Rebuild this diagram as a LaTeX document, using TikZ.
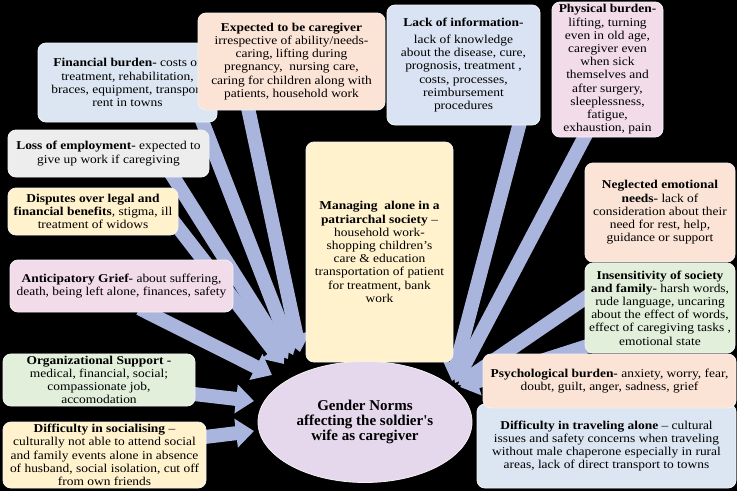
\documentclass[tikz,border=0pt]{standalone}
\usepackage{fontspec}
\setmainfont{Liberation Serif}[FakeStretch=1.12]
\newfontfamily\ellfont{Liberation Serif}
\usetikzlibrary{arrows.meta,shapes.geometric,calc}
\pgfdeclarelayer{back}
\pgfdeclarelayer{arr}
\pgfsetlayers{back,arr,main}
\definecolor{arrc}{HTML}{A9B5DC}
\definecolor{cblue}{HTML}{DCE6F2}
\definecolor{cpeach}{HTML}{FBE3D6}
\definecolor{clav}{HTML}{DAE3F3}
\definecolor{cpink}{HTML}{F2DCEA}
\definecolor{cgray}{HTML}{EDEDED}
\definecolor{cyel}{HTML}{FFF2CC}
\definecolor{cgreen}{HTML}{E2EFDA}
\definecolor{cell}{HTML}{E5D8EC}
\definecolor{cedge}{HTML}{F2F2F2}
\begin{document}
\begin{tikzpicture}[x=1pt,y=-1pt,
  box/.style={rectangle, rounded corners=8pt, draw=cedge, line width=0.8pt, align=center, inner sep=2pt, font=\fontsize{12}{13.2}\selectfont, text=black},
  fat/.style={draw=arrc, line width=14pt, -{Triangle[width=28pt,length=18pt]}}]
\begin{pgfonlayer}{back}
\fill[black] (0,0) rectangle (737,491);
\end{pgfonlayer}
\useasboundingbox (0,0) rectangle (737,491);

% boxes
\node[box, fill=cblue, minimum width=179pt, minimum height=79pt] (fin) at (127.5,82.5)
 {\textbf{Financial burden-} costs of\\treatment, rehabilitation,\\braces, equipment, transport\\rent in towns};
\node[box, fill=cpeach, minimum width=187pt, minimum height=97pt] (exp) at (291.5,61.5)
 {\textbf{Expected to be caregiver}\\irrespective of ability/needs-\\caring, lifting during\\pregnancy,\ \ nursing care,\\caring for children along with\\patients, household work};
\node[box, fill=clav, minimum width=153pt, minimum height=120pt] (lack) at (463.5,65)
 {\textbf{Lack of information-}\\[4pt]lack of knowledge\\about the disease, cure,\\prognosis, treatment ,\\costs, processes,\\reimbursement\\procedures};
\node[box, fill=cpink, minimum width=111pt, minimum height=135pt] (phys) at (607.5,69.5)
 {\textbf{Physical burden-}\\lifting, turning\\even in old age,\\caregiver even\\when sick\\themselves and\\after surgery,\\sleeplessness,\\fatigue,\\exhaustion, pain};
\node[box, fill=cgray, minimum width=201pt, minimum height=47pt] (loss) at (108.5,153.5)
 {\textbf{Loss of employment-} expected to\\give up work if caregiving};
\node[box, fill=cyel, minimum width=170pt, minimum height=47pt] (disp) at (93,211.5)
 {\textbf{Disputes over legal and}\\\textbf{financial benefits}, stigma, ill\\treatment of widows};
\node[box, fill=cpink, minimum width=223pt, minimum height=52pt] (antic) at (121.5,286)
 {\textbf{Anticipatory Grief-} about suffering,\\death, being left alone, finances, safety};
\node[box, fill=cyel, minimum width=147pt, minimum height=220pt] (manag) at (379.5,252)
 {\textbf{Managing\ \ alone in a}\\\textbf{patriarchal society} --\\household work-\\shopping children’s\\care \& education\\transportation of patient\\for treatment, bank\\work};
\node[box, fill=cpeach, minimum width=150pt, minimum height=99pt] (negl) at (660,212.5)
 {\textbf{Neglected emotional}\\\textbf{needs-} lack of\\consideration about their\\need for rest, help,\\guidance or support};
\node[box, fill=cgreen, minimum width=150pt, minimum height=90pt] (insens) at (660,308)
 {\textbf{Insensitivity of society}\\\textbf{and family-} harsh words,\\rude language, uncaring\\about the effect of words,\\effect of caregiving tasks ,\\emotional state};
\node[box, fill=cblue, minimum width=259pt, minimum height=84pt] (trav) at (606.5,446)
 {\textbf{Difficulty in traveling alone} -- cultural\\issues and safety concerns when traveling\\without male chaperone especially in rural\\areas, lack of direct transport to towns};
\node[box, fill=cpeach, minimum width=253pt, minimum height=54pt] (psych) at (609.5,381)
 {\textbf{Psychological burden-} anxiety, worry, fear,\\doubt, guilt, anger, sadness, grief};
\node[box, fill=cgreen, minimum width=192pt, minimum height=50pt] (org) at (99,380)
 {\textbf{Organizational Support -}\\medical, financial, social;\\compassionate job,\\accomodation};
\node[box, fill=cyel, minimum width=203pt, minimum height=66pt] (soc) at (104.5,455)
 {\textbf{Difficulty in socialising} --\\culturally not able to attend social\\and family events alone in absence\\of husband, social isolation, cut off\\from own friends};
\node[ellipse, fill=cell, draw=cedge, line width=0.8pt, minimum width=214pt, minimum height=121pt, inner sep=0pt, align=center, font=\ellfont\fontsize{15}{14.8}\selectfont\bfseries] (ell) at (365,422)
 {Gender Norms\\affecting the soldier's\\wife as caregiver};

% arrow tips
\coordinate (t1) at (300,352);
\coordinate (t2) at (293,355);
\coordinate (t3) at (288,359);
\coordinate (t4) at (284,364);
\coordinate (t5) at (272,375);
\coordinate (t6) at (254,401);
\coordinate (t7) at (254,431);
\coordinate (r1) at (452,381);
\coordinate (r2) at (455,383);
\coordinate (r3) at (458,385);
\coordinate (r4) at (460,387);

\begin{pgfonlayer}{arr}
\draw[fat] ($(exp.south)+(-44,-5)$) -- (t1);
\draw[fat] ($(fin.south east)+(-17,-6)$) -- (t2);
\draw[fat] ($(loss.south east)+(-39,-5)$) -- (t3);
\draw[fat] ($(disp.east)+(-8,6)$) -- (t4);
\draw[fat] ($(antic.south)+(18,-4)$) -- (t5);
\draw[fat] ($(org.east)+(-10,13)$) -- (t6);
\draw[fat] ($(soc.east)+(-10,-17)$) -- (t7);
\draw[fat] ($(lack.south)+(57,-5)$) -- (r1);
\draw[fat] ($(phys.south)+(-20,-6)$) -- (r2);
\draw[fat] ($(insens.west)+(5,-13)$) -- (r3);
\draw[fat] ($(insens.south west)+(5,-8)$) -- (r4);
\end{pgfonlayer}
\end{tikzpicture}
\end{document}
